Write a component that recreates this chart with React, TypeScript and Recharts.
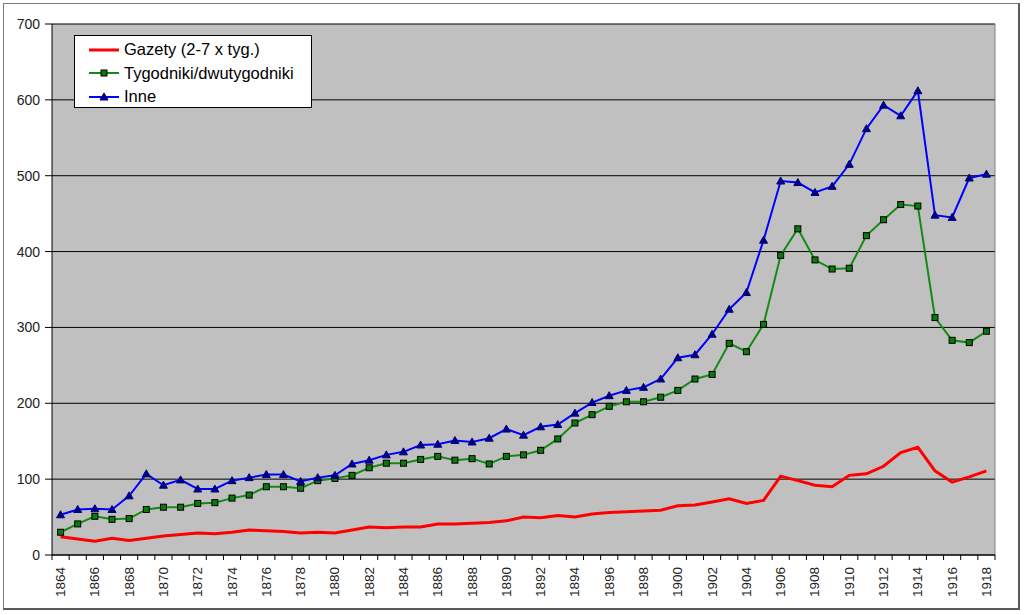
import React from 'react';
import { LineChart, Line, XAxis, YAxis, CartesianGrid, Legend } from 'recharts';

const years = [
  1864, 1865, 1866, 1867, 1868, 1869, 1870, 1871, 1872, 1873,
  1874, 1875, 1876, 1877, 1878, 1879, 1880, 1881, 1882, 1883,
  1884, 1885, 1886, 1887, 1888, 1889, 1890, 1891, 1892, 1893,
  1894, 1895, 1896, 1897, 1898, 1899, 1900, 1901, 1902, 1903,
  1904, 1905, 1906, 1907, 1908, 1909, 1910, 1911, 1912, 1913,
  1914, 1915, 1916, 1917, 1918,
];

const gazety = [
  24, 21, 18, 22, 19, 22, 25, 27, 29, 28,
  30, 33, 32, 31, 29, 30, 29, 33, 37, 36,
  37, 37, 41, 41, 42, 43, 45, 50, 49, 52,
  50, 54, 56, 57, 58, 59, 65, 66, 70, 74,
  68, 72, 104, 98, 92, 90, 105, 107, 117, 135,
  142, 111, 96, 103, 111,
];

const tygodniki = [
  30, 41, 51, 47, 48, 60, 63, 63, 68, 69,
  75, 79, 90, 90, 88, 98, 101, 105, 115, 121,
  121, 126, 130, 125, 127, 120, 130, 132, 138, 153,
  174, 185, 196, 202, 202, 208, 217, 232, 238, 279,
  268, 304, 395, 430, 389, 377, 378, 421, 442, 462,
  460, 313, 283, 280, 295,
];

const inne = [
  53, 60, 61, 60, 78, 107, 92, 99, 87, 87,
  98, 102, 106, 106, 97, 102, 105, 120, 125, 132,
  136, 145, 146, 151, 149, 154, 166, 158, 169, 172,
  187, 201, 210, 217, 221, 232, 260, 264, 291, 324,
  346, 415, 493, 491, 478, 486, 515, 562, 593, 579,
  612, 448, 445, 497, 502,
];

const yTicks = [0, 100, 200, 300, 400, 500, 600, 700];

const seriesNames = ['Gazety (2-7 x tyg.)', 'Tygodniki/dwutygodniki', 'Inne'];

const data = years.map((y, i) => ({
  year: String(y),
  gazety: gazety[i],
  tygodniki: tygodniki[i],
  inne: inne[i],
}));

const W = 1024;
const H = 615;
const PLOT_LEFT = 52;
const PLOT_RIGHT = 995;
const PLOT_TOP = 24;
const PLOT_BOTTOM = 555;
const STEP = (PLOT_RIGHT - PLOT_LEFT) / years.length;
const PAD = STEP / 2;
const FONT = '"Liberation Sans", Arial, sans-serif';

const XTick = (props: any) => {
  const { x, y, payload, index } = props;
  const isLast = index === years.length - 1;
  const ly = y + 12;
  return (
    <g>
      <line x1={x - PAD} x2={x - PAD} y1={y} y2={y + 5} stroke="#000" strokeWidth={1} />
      {isLast && <line x1={x + PAD} x2={x + PAD} y1={y} y2={y + 5} stroke="#000" strokeWidth={1} />}
      {index % 2 === 0 && (
        <text
          x={x}
          y={ly}
          transform={`rotate(-90, ${x}, ${ly})`}
          textAnchor="end"
          dominantBaseline="central"
          fontSize={13.5}
          fill="#222"
          fontFamily={FONT}
        >
          {payload.value}
        </text>
      )}
    </g>
  );
};

const SquareDot = (props: any) => {
  const { cx, cy, index } = props;
  if (cx == null || cy == null) return <g key={`sq-${index}`} />;
  return (
    <rect key={`sq-${index}`} x={cx - 3} y={cy - 3} width={6} height={6} fill="#0a7a0a" stroke="#000" strokeWidth={1} />
  );
};

const TriangleDot = (props: any) => {
  const { cx, cy, index } = props;
  if (cx == null || cy == null) return <g key={`tr-${index}`} />;
  return (
    <polygon
      key={`tr-${index}`}
      points={`${cx},${cy - 4} ${cx - 4},${cy + 3} ${cx + 4},${cy + 3}`}
      fill="#000080"
      stroke="#000080"
      strokeWidth={1}
    />
  );
};

const LegendIcon = ({ kind, color }: { kind: number; color: string }) => (
  <svg width={30} height={12} style={{ display: 'block', flex: 'none' }}>
    <line x1={0} x2={30} y1={6} y2={6} stroke={color} strokeWidth={kind === 0 ? 3 : 2} />
    {kind === 1 && <rect x={12} y={3} width={6} height={6} fill="#0a7a0a" stroke="#000" strokeWidth={1} />}
    {kind === 2 && <polygon points="15,2 11,9 19,9" fill="#000080" stroke="#000080" strokeWidth={1} />}
  </svg>
);

const LegendBox = (props: any) => {
  const payload = (props.payload || []) as any[];
  const order = ['gazety', 'tygodniki', 'inne'];
  const items = order.map((k) => payload.find((p) => p.dataKey === k)).filter(Boolean);
  return (
    <div
      style={{
        boxSizing: 'border-box',
        width: 238,
        height: 73,
        border: '1px solid #000',
        background: '#fff',
        paddingTop: 2,
        fontFamily: FONT,
        fontSize: 16.5,
        color: '#000',
      }}
    >
      {items.map((p: any, i: number) => (
        <div key={p.dataKey} style={{ display: 'flex', alignItems: 'center', height: 23.5, paddingLeft: 14 }}>
          <LegendIcon kind={i} color={p.color} />
          <span style={{ marginLeft: 5, whiteSpace: 'nowrap', lineHeight: '23.5px' }}>{p.value}</span>
        </div>
      ))}
    </div>
  );
};

export default function App() {
  return (
    <div style={{ position: 'absolute', left: 0, top: 0, width: W, height: H, background: '#fff', overflow: 'hidden' }}>
      <div
        style={{
          position: 'absolute',
          left: 3,
          top: 3,
          width: 1017,
          height: 607,
          boxSizing: 'border-box',
          borderLeft: '1px solid #7a7a7a',
          borderTop: '1px solid #7a7a7a',
          borderRight: '2px solid #5a5a5a',
          borderBottom: '2px solid #5a5a5a',
        }}
      />
      <div style={{ position: 'absolute', left: 0, top: 0 }}>
        <LineChart
          width={W}
          height={H}
          data={data}
          margin={{ top: PLOT_TOP, right: W - PLOT_RIGHT, left: 0, bottom: 0 }}
        >
          <CartesianGrid vertical={false} stroke="#000" strokeWidth={1} fill="#C0C0C0" fillOpacity={1} />
          <CartesianGrid
            horizontal={false}
            vertical
            stroke="#808080"
            strokeWidth={1}
            verticalCoordinatesGenerator={(p: any) => [p.offset.left + p.offset.width]}
          />
          <XAxis
            dataKey="year"
            height={H - PLOT_BOTTOM}
            interval={0}
            padding={{ left: PAD, right: PAD }}
            tickLine={false}
            tickSize={0}
            tickMargin={0}
            axisLine={{ stroke: '#000', strokeWidth: 1 }}
            tick={<XTick />}
          />
          <YAxis
            width={PLOT_LEFT}
            domain={[0, 700]}
            ticks={yTicks}
            interval={0}
            tickSize={7}
            tickMargin={5}
            tickLine={{ stroke: '#000' }}
            axisLine={{ stroke: '#000', strokeWidth: 1 }}
            tick={{ fontSize: 14, fill: '#222', fontFamily: FONT }}
          />
          <Legend
            layout="vertical"
            align="center"
            verticalAlign="middle"
            content={<LegendBox />}
            wrapperStyle={{ left: 74, top: 35, width: 238, height: 73 }}
          />
          <Line
            type="linear"
            dataKey="gazety"
            name={seriesNames[0]}
            stroke="#FF0000"
            strokeWidth={3}
            dot={false}
            activeDot={false}
            isAnimationActive={false}
          />
          <Line
            type="linear"
            dataKey="tygodniki"
            name={seriesNames[1]}
            stroke="#148a14"
            strokeWidth={2}
            dot={SquareDot}
            activeDot={false}
            isAnimationActive={false}
          />
          <Line
            type="linear"
            dataKey="inne"
            name={seriesNames[2]}
            stroke="#0000FF"
            strokeWidth={2}
            dot={TriangleDot}
            activeDot={false}
            isAnimationActive={false}
          />
        </LineChart>
      </div>
    </div>
  );
}
